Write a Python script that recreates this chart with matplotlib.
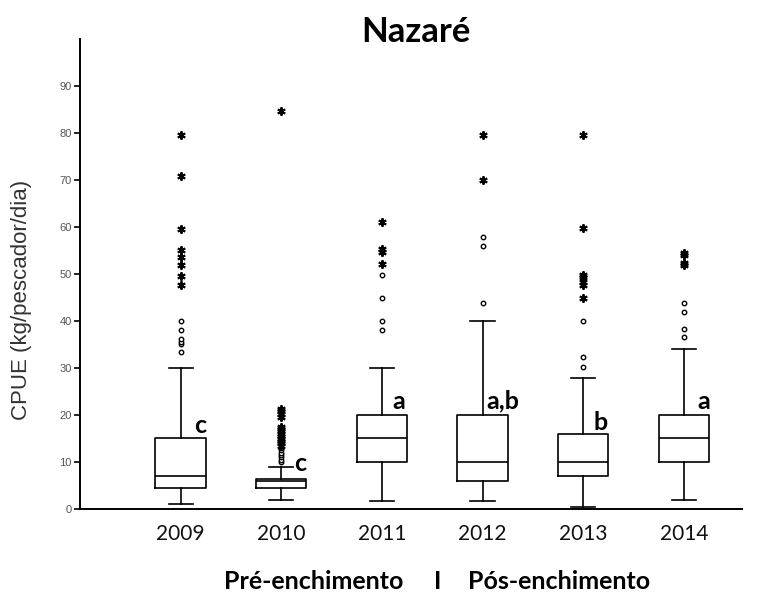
import matplotlib.pyplot as plt

# data
years = ["2009", "2010", "2011", "2012", "2013", "2014"]
whislo = [1.1, 1.9, 1.6, 1.6, 0.4, 2.0]
q1 = [4.5, 4.5, 9.9, 6.0, 7.0, 10.0]
med = [7.1, 6.0, 15.2, 9.9, 9.9, 15.1]
q3 = [15.2, 6.4, 20.0, 20.0, 16.0, 20.0]
whishi = [30.1, 8.9, 30.1, 40.0, 27.8, 34.0]
circles = [
    [33.5, 35.1, 35.6, 36.1, 38.1, 40.0],
    [10.0, 10.5, 11.0, 11.5, 12.0, 12.5, 13.0],
    [38.1, 39.9, 44.8, 49.8],
    [43.9, 56.0, 57.9],
    [30.3, 32.3, 40.0],
    [36.5, 38.2, 42.0, 43.9],
]
stars = [
    [47.7, 49.6, 51.9, 53.7, 55.1, 59.6, 70.9, 79.6],
    [13.5, 14.0, 14.5, 15.0, 15.5, 16.0, 16.5, 17.0, 17.5, 19.6, 20.2, 20.8, 21.3, 84.7],
    [52.1, 54.7, 55.3, 61.1],
    [69.9, 79.6],
    [44.8, 47.7, 48.3, 49.3, 49.8, 59.7, 79.6],
    [51.9, 52.4, 54.0, 54.5],
]
letters = ["c", "c", "a", "a,b", "b", "a"]
letter_y = [16.2, 8.1, 21.3, 21.3, 16.8, 21.3]
letter_dx = [0.13, 0.13, 0.10, 0.04, 0.10, 0.13]
yticks = [0, 10, 20, 30, 40, 50, 60, 70, 80, 90]

fig = plt.figure(figsize=(7.66, 5.98), dpi=100)
ax = fig.add_axes([0.1044, 0.1488, 0.8646, 0.786])

stats = []
for i in range(len(years)):
    stats.append(dict(whislo=whislo[i], q1=q1[i], med=med[i], q3=q3[i],
                      whishi=whishi[i], fliers=circles[i], label=years[i]))

pos = list(range(1, len(years) + 1))
lw = 1.2
ax.bxp(stats, positions=pos, widths=0.5, capwidths=0.24,
       boxprops=dict(color="black", linewidth=lw),
       medianprops=dict(color="black", linewidth=lw),
       whiskerprops=dict(color="black", linewidth=lw),
       capprops=dict(color="black", linewidth=lw),
       flierprops=dict(marker="o", markersize=3.2, markerfacecolor="white",
                       markeredgecolor="black", markeredgewidth=1.0))

for i, s in enumerate(stars):
    ax.plot([pos[i]] * len(s), s, linestyle="none", marker=(6, 2, 0),
            markersize=6, color="black", markeredgewidth=1.4)

for i, t in enumerate(letters):
    ax.text(pos[i] + letter_dx[i], letter_y[i], t, fontsize=18, fontweight="bold",
            family="Lato", ha="left", va="baseline")

ax.set_xlim(0, 6.58)
ax.set_ylim(0, 100)
ax.set_yticks(yticks)
ax.set_yticklabels([str(v) for v in yticks], fontsize=8, color="#555555",
                   family="Liberation Sans")
ax.tick_params(axis="y", length=4, width=1.2, pad=2)
ax.tick_params(axis="x", length=0, pad=11)
ax.set_xticks(pos)
ax.set_xticklabels(years, fontsize=15, family="Lato", color="#111111")
for sp in ["top", "right"]:
    ax.spines[sp].set_visible(False)
ax.spines["left"].set_linewidth(1.4)
ax.spines["bottom"].set_linewidth(1.4)

fig.text(0.0287, 0.498, "CPUE (kg/pescador/dia)", fontsize=16, color="#333333",
         family="Liberation Sans", rotation=90, ha="center", va="center")
fig.text(0.543, 0.93, "Nazaré", fontsize=25, fontweight="bold", family="Lato",
         ha="center", va="baseline")
fig.text(0.526, 0.008, "Pré-enchimento", fontsize=18, fontweight="bold",
         family="Lato", ha="right", va="bottom")
fig.text(0.571, 0.008, "I", fontsize=18, fontweight="bold", family="Lato",
         ha="center", va="bottom")
fig.text(0.611, 0.008, "Pós-enchimento", fontsize=18, fontweight="bold",
         family="Lato", ha="left", va="bottom")

fig.savefig("out.png", dpi=100)
